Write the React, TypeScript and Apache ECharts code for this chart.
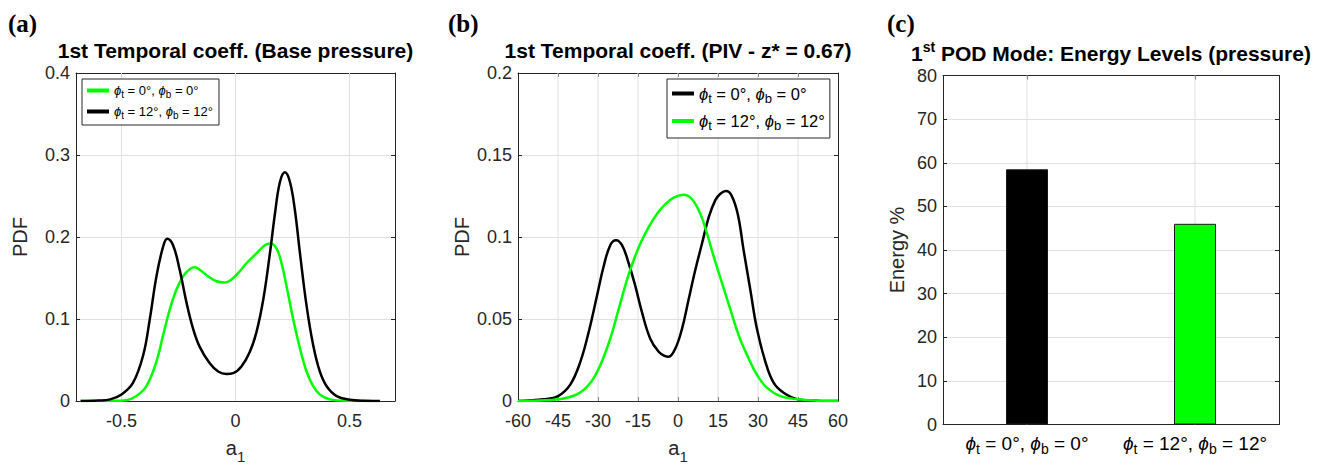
import React, { useEffect, useRef } from 'react';
import * as echarts from 'echarts';

// ---------- data ----------
// Panel (a): PDF of 1st temporal coefficient (base pressure)
const pdfA_phi0: [number, number][] = [
  [-0.68, 0], [-0.55, 0.0002], [-0.479, 0.001], [-0.435, 0.006], [-0.391, 0.018], [-0.347, 0.048],
  [-0.318, 0.08], [-0.288, 0.112], [-0.259, 0.136], [-0.23, 0.152], [-0.2, 0.161], [-0.179, 0.163],
  [-0.157, 0.16], [-0.12, 0.152], [-0.083, 0.146], [-0.047, 0.1445], [-0.018, 0.148], [0.012, 0.156],
  [0.048, 0.168], [0.092, 0.18], [0.129, 0.19], [0.154, 0.192], [0.18, 0.186], [0.202, 0.168],
  [0.224, 0.14], [0.253, 0.1], [0.283, 0.064], [0.312, 0.036], [0.341, 0.018], [0.37, 0.008],
  [0.414, 0.002], [0.49, 0.0002], [0.6, 0],
];
const pdfA_phi12: [number, number][] = [
  [-0.68, 0], [-0.6, 0.0005], [-0.55, 0.002], [-0.5, 0.008], [-0.45, 0.022], [-0.405, 0.056],
  [-0.376, 0.1], [-0.347, 0.152], [-0.318, 0.188], [-0.3, 0.198], [-0.274, 0.19], [-0.245, 0.16],
  [-0.215, 0.12], [-0.186, 0.088], [-0.157, 0.066], [-0.113, 0.046], [-0.076, 0.036], [-0.04, 0.033],
  [-0.01, 0.034], [0.026, 0.042], [0.063, 0.06], [0.092, 0.084], [0.122, 0.124], [0.151, 0.18],
  [0.173, 0.228], [0.195, 0.267], [0.217, 0.279], [0.239, 0.267], [0.261, 0.232], [0.283, 0.18],
  [0.312, 0.116], [0.341, 0.068], [0.37, 0.036], [0.4, 0.018], [0.444, 0.006], [0.502, 0.0016],
  [0.56, 0.0003], [0.634, 0],
];
// Panel (b): PDF of 1st temporal coefficient (PIV, z* = 0.67)
const pdfB_phi0: [number, number][] = [
  [-60, 0], [-50.4, 0.001], [-45, 0.003], [-40.4, 0.01], [-36.6, 0.024], [-33.5, 0.042],
  [-30.4, 0.064], [-27.9, 0.082], [-25.4, 0.095], [-23.25, 0.098], [-21, 0.095], [-18.5, 0.084],
  [-16, 0.07], [-13.5, 0.054], [-10.4, 0.038], [-7.25, 0.03], [-5, 0.0275], [-3.5, 0.027],
  [-1, 0.032], [1.5, 0.044], [4, 0.062], [6.5, 0.08], [9, 0.096], [11.5, 0.112], [14, 0.1225],
  [16, 0.1265], [18, 0.128], [20, 0.1255], [22.4, 0.114], [24.6, 0.092], [27.1, 0.068],
  [29.6, 0.044], [32.75, 0.024], [35.9, 0.011], [39.6, 0.005], [45, 0.001], [52, 0.0002], [60, 0],
];
const pdfB_phi12: [number, number][] = [
  [-60, 0], [-52, 0.0003], [-45, 0.001], [-37.9, 0.004], [-32.9, 0.011], [-29.1, 0.022],
  [-25.4, 0.038], [-22.25, 0.056], [-19.1, 0.074], [-16.6, 0.086], [-14.1, 0.096], [-11, 0.106],
  [-7.9, 0.114], [-4.75, 0.12], [-1.6, 0.124], [2.1, 0.1257], [5.25, 0.123], [8.4, 0.114],
  [10.9, 0.102], [13.4, 0.088], [16.5, 0.072], [19.6, 0.056], [22.75, 0.04], [25.9, 0.028],
  [29.6, 0.016], [33.4, 0.008], [38.4, 0.003], [45, 0.001], [52, 0.0002], [60, 0],
];
// Panel (c): energy of 1st POD mode
const energyAngles = [0, 12];
const energyValues = [58.5, 46];

// axis ranges and tick positions
const xRangeA = [-0.7, 0.7];
const yRangeA = [0, 0.4];
const xRangeB = [-60, 60];
const yRangeB = [0, 0.2];
const xRangeC = [0.5, 2.5];
const yRangeC = [0, 80];
const ticksAX = [-0.5, 0, 0.5];
const ticksBX = [-45, -30, -15, 0, 15, 30, 45];
const ticksCX = [1, 2];

// ---------- helpers ----------
const FONT = '"Liberation Sans", Arial, Helvetica, sans-serif';
const AXIS_COLOR = '#262626';
const GRID_COLOR = '#e0e0e0';

const phiLabel = (deg: number) => `{p|ϕ}{s|t} = ${deg}°, {p|ϕ}{s|b} = ${deg}°`;
const richFor = (size: number, subSize: number, pad: number) => ({
  p: { fontSize: size, fontFamily: FONT, fontStyle: 'italic', color: '#000' },
  s: { fontSize: subSize, fontFamily: FONT, padding: [pad, 0, 0, 0], color: '#000' },
});

const tickStyle = (custom?: number[]) => ({
  show: true, inside: true, length: 4, lineStyle: { color: AXIS_COLOR },
  ...(custom ? { customValues: custom } : {}),
});

const baseX = (gridIndex: number, position: 'top' | 'bottom', range: number[], extra: any) => ({
  gridIndex,
  position,
  type: 'value',
  min: range[0],
  max: range[1],
  axisLine: { show: true, onZero: false, lineStyle: { color: AXIS_COLOR, width: 1 } },
  axisTick: tickStyle(),
  axisLabel: position === 'bottom'
    ? { show: true, fontSize: 18, fontFamily: FONT, color: AXIS_COLOR, margin: 11 }
    : { show: false },
  splitLine: { show: false },
  ...extra,
});
const baseY = (gridIndex: number, position: 'left' | 'right', range: number[], interval: number, extra: any) => ({
  gridIndex,
  position,
  type: 'value',
  min: range[0],
  max: range[1],
  interval,
  axisLine: { show: true, onZero: false, lineStyle: { color: AXIS_COLOR, width: 1 } },
  axisTick: tickStyle(),
  axisLabel: position === 'left'
    ? { show: true, fontSize: 18, fontFamily: FONT, color: AXIS_COLOR, margin: 6 }
    : { show: false },
  splitLine: { show: position === 'left', lineStyle: { color: GRID_COLOR, width: 1 } },
  ...extra,
});

// vertical grid lines (one thin line per x tick), drawn beneath the data
const vGrid = (xAxisIndex: number, yAxisIndex: number, ticks: number[], yRange: number[]) =>
  ticks.map((v, i) => ({
    name: `vgrid-${xAxisIndex}-${i}`, type: 'line', xAxisIndex, yAxisIndex, z: 1, silent: true,
    symbol: 'none', showSymbol: false, legendHoverLink: false, tooltip: { show: false },
    lineStyle: { color: GRID_COLOR, width: 1 },
    emphasis: { disabled: true },
    data: [[v, yRange[0]], [v, yRange[1]]],
  }));

const legendNames: Record<string, string> = {
  a0: phiLabel(0), a12: phiLabel(12), b0: phiLabel(0), b12: phiLabel(12),
};

export default function App() {
  const ref = useRef<HTMLDivElement>(null);
  useEffect(() => {
    if (!ref.current) return;
    const chart = echarts.init(ref.current, undefined, { renderer: 'svg' });
    const xName = {
      name: '{a|a}{s|1}', nameLocation: 'middle', nameGap: 31,
      nameTextStyle: {
        rich: {
          a: { fontSize: 20, fontFamily: FONT, color: AXIS_COLOR },
          s: { fontSize: 15, fontFamily: FONT, color: AXIS_COLOR, padding: [17, 0, 0, 0] },
        },
      },
    };
    const yName = (name: string, gap: number) => ({
      name, nameLocation: 'middle', nameGap: gap,
      nameTextStyle: { fontSize: 20, fontFamily: FONT, color: AXIS_COLOR },
    });
    const option: any = {
      animation: false,
      backgroundColor: '#fff',
      grid: [
        { left: 76, top: 73, width: 319, height: 334 },
        { left: 518, top: 73, width: 320, height: 334 },
        { left: 943, top: 75.5, width: 336, height: 349 },
      ],
      xAxis: [
        baseX(0, 'bottom', xRangeA, {
          axisTick: tickStyle(ticksAX),
          axisLabel: { show: true, fontSize: 18, fontFamily: FONT, color: AXIS_COLOR, margin: 11, customValues: ticksAX },
          ...xName,
        }),
        baseX(0, 'top', xRangeA, { axisTick: tickStyle(ticksAX) }),
        baseX(1, 'bottom', xRangeB, { interval: 15, ...xName }),
        baseX(1, 'top', xRangeB, { interval: 15 }),
        baseX(2, 'bottom', xRangeC, {
          axisTick: tickStyle(ticksCX),
          axisLabel: {
            show: true, margin: 6, customValues: ticksCX, fontSize: 19, fontFamily: FONT, color: '#000',
            formatter: (v: number) => phiLabel(energyAngles[Math.round(v) - 1]),
            rich: richFor(19, 14, 11),
          },
        }),
        baseX(2, 'top', xRangeC, { axisTick: tickStyle(ticksCX) }),
      ],
      yAxis: [
        baseY(0, 'left', yRangeA, 0.1, yName('PDF', 46)),
        baseY(0, 'right', yRangeA, 0.1, {}),
        baseY(1, 'left', yRangeB, 0.05, yName('PDF', 46)),
        baseY(1, 'right', yRangeB, 0.05, {}),
        baseY(2, 'left', yRangeC, 10, yName('Energy %', 36)),
        baseY(2, 'right', yRangeC, 10, {}),
      ],
      legend: [
        {
          data: ['a0', 'a12'], orient: 'vertical', left: 82, top: 79,
          padding: [5, 6, 5, 5], itemGap: 6, itemWidth: 22, itemHeight: 4, icon: 'rect',
          borderColor: AXIS_COLOR, borderWidth: 1, backgroundColor: '#fff',
          formatter: (n: string) => legendNames[n],
          textStyle: { fontSize: 13, fontFamily: FONT, color: '#000', rich: richFor(13, 10, 7) },
          selectedMode: false,
        },
        {
          data: ['b0', 'b12'], orient: 'vertical', left: 667, top: 79,
          padding: [6, 5, 6, 5], itemGap: 8, itemWidth: 22, itemHeight: 4, icon: 'rect',
          borderColor: AXIS_COLOR, borderWidth: 1, backgroundColor: '#fff',
          formatter: (n: string) => legendNames[n],
          textStyle: { fontSize: 16.5, fontFamily: FONT, color: '#000', rich: richFor(16.5, 13, 9) },
          selectedMode: false,
        },
      ],
      series: [
        ...vGrid(0, 0, ticksAX, yRangeA),
        ...vGrid(2, 2, ticksBX, yRangeB),
        ...vGrid(4, 4, ticksCX, yRangeC),
        { name: 'a0', type: 'line', xAxisIndex: 0, yAxisIndex: 0, data: pdfA_phi0, showSymbol: false, smooth: 0.4, lineStyle: { color: '#00ff00', width: 2.5 }, itemStyle: { color: '#00ff00' }, z: 3 },
        { name: 'a12', type: 'line', xAxisIndex: 0, yAxisIndex: 0, data: pdfA_phi12, showSymbol: false, smooth: 0.4, lineStyle: { color: '#000', width: 2.5 }, itemStyle: { color: '#000' }, z: 3 },
        { name: 'b0', type: 'line', xAxisIndex: 2, yAxisIndex: 2, data: pdfB_phi0, showSymbol: false, smooth: 0.4, lineStyle: { color: '#000', width: 2.5 }, itemStyle: { color: '#000' }, z: 3 },
        { name: 'b12', type: 'line', xAxisIndex: 2, yAxisIndex: 2, data: pdfB_phi12, showSymbol: false, smooth: 0.4, lineStyle: { color: '#00ff00', width: 2.5 }, itemStyle: { color: '#00ff00' }, z: 3 },
        {
          name: 'energy', type: 'bar', xAxisIndex: 4, yAxisIndex: 4, barWidth: 42, z: 3,
          data: energyValues.map((v, i) => ({
            value: [ticksCX[i], v],
            itemStyle: { color: i === 0 ? '#000' : '#00ff00', borderColor: '#1a1a1a', borderWidth: 1 },
          })),
        },
      ],
      graphic: [
        { type: 'text', x: 8, y: 23, style: { text: '(a)', font: 'bold 25px "Liberation Serif", "Times New Roman", serif', fill: '#000', verticalAlign: 'middle', textVerticalAlign: 'middle' } },
        { type: 'text', x: 448, y: 23, style: { text: '(b)', font: 'bold 25px "Liberation Serif", "Times New Roman", serif', fill: '#000', verticalAlign: 'middle', textVerticalAlign: 'middle' } },
        { type: 'text', x: 887, y: 23, style: { text: '(c)', font: 'bold 25px "Liberation Serif", "Times New Roman", serif', fill: '#000', verticalAlign: 'middle', textVerticalAlign: 'middle' } },
        { type: 'text', x: 235.5, y: 50, style: { text: '1st Temporal coeff. (Base pressure)', font: `bold 21px ${FONT}`, fill: '#000', align: 'center', textAlign: 'center', verticalAlign: 'middle', textVerticalAlign: 'middle' } },
        { type: 'text', x: 678, y: 50, style: { text: '1st Temporal coeff. (PIV - z* = 0.67)', font: `bold 21px ${FONT}`, fill: '#000', align: 'center', textAlign: 'center', verticalAlign: 'middle', textVerticalAlign: 'middle' } },
        {
          type: 'text', x: 1111, y: 53,
          style: {
            text: '{m|1}{sup|st}{m| POD Mode: Energy Levels (pressure)}',
            fill: '#000', align: 'center', textAlign: 'center', verticalAlign: 'middle', textVerticalAlign: 'middle',
            rich: {
              m: { fontSize: 21, fontWeight: 'bold', fontFamily: FONT, fill: '#000', color: '#000' },
              sup: { fontSize: 14, fontWeight: 'bold', fontFamily: FONT, fill: '#000', color: '#000', padding: [0, 0, 12, 0] },
            },
          },
        },
      ],
    };
    chart.setOption(option);
    return () => chart.dispose();
  }, []);
  return <div ref={ref} style={{ position: 'fixed', left: 0, top: 0, width: 1320, height: 469, background: '#fff' }} />;
}
